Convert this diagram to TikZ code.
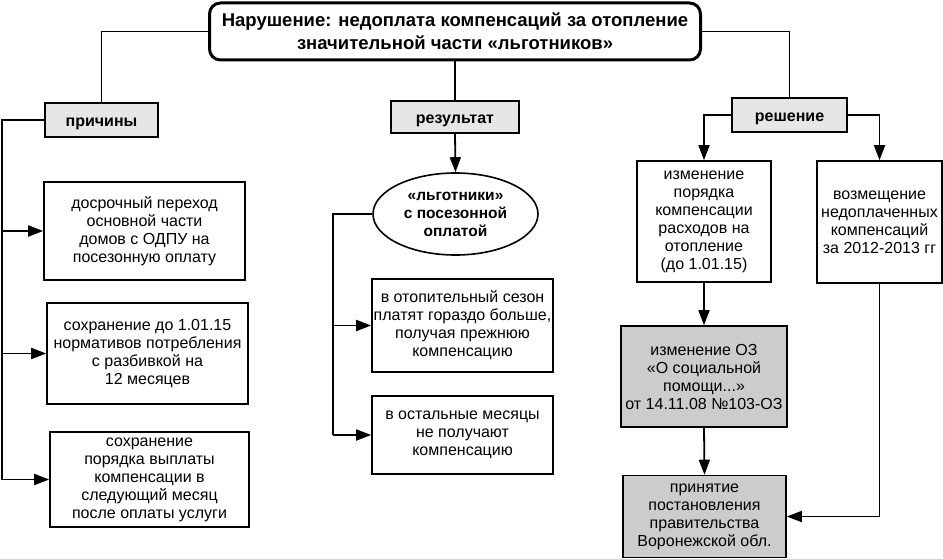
\documentclass[tikz,border=0pt]{standalone}
\usepackage{fontspec}
\setmainfont{Liberation Sans}
\usetikzlibrary{arrows.meta,shapes.geometric}
\definecolor{lblgray}{HTML}{E6E6E6}
\definecolor{boxgray}{HTML}{CCCCCC}
\begin{document}
\begin{tikzpicture}[x=1pt,y=-1pt,
  box/.style={draw,line width=1.6pt,inner sep=0pt,align=center,font=\fontsize{16}{18}\selectfont},
  graybox/.style={box,fill=boxgray},
  lbl/.style={draw,line width=1.6pt,fill=lblgray,inner sep=0pt,text height=14pt,text depth=0pt,font=\bfseries\fontsize{16}{18}\selectfont},
  conn/.style={line width=1.8pt},
  trunk/.style={line width=2.8pt},
  arr/.style={conn,-{Triangle[length=15pt,width=11pt]}}]
\useasboundingbox (0,0) rectangle (943,559);
\node[draw,line width=3pt,rounded corners=11pt,minimum width=491pt,minimum height=57pt,inner sep=0pt,align=center,font=\bfseries\fontsize{18.5}{23}\selectfont] (title) at (455,31.5) {Нарушение: недоплата компенсаций за отопление\\значительной части «льготников»};
\node[lbl,minimum width=113pt,minimum height=34pt] (prich) at (101.5,120) {причины};
\node[lbl,minimum width=128pt,minimum height=32pt] (rez) at (455,117) {результат};
\node[lbl,minimum width=115pt,minimum height=34pt] (resh) at (789.5,115) {решение};
\node[box,minimum width=201pt,minimum height=98pt] (b1) at (144.5,231) {досрочный переход\\основной части\\домов с ОДПУ на\\посезонную оплату};
\node[box,minimum width=201pt,minimum height=101pt] (b2) at (147.5,353.5) {сохранение до 1.01.15\\нормативов потребления\\с разбивкой на\\12 месяцев};
\node[box,minimum width=199pt,minimum height=95pt] (b3) at (149.5,479.5) {сохранение\\порядка выплаты\\компенсации в\\следующий месяц\\после оплаты услуги};
\node[draw,ellipse,line width=1.6pt,inner sep=0pt,minimum width=165pt,minimum height=82pt,align=center,font=\bfseries\fontsize{15.5}{18}\selectfont] (ell) at (455.5,214) {«льготники»\\с посезонной\\оплатой};
\node[box,minimum width=181pt,minimum height=93pt] (ra) at (462.5,325.5) {в отопительный сезон\\платят гораздо больше,\\получая прежнюю\\компенсацию};
\node[box,minimum width=181pt,minimum height=78pt] (rb) at (462.5,435) {в остальные месяцы\\не получают\\компенсацию};
\node[box,minimum width=134pt,minimum height=121pt] (por) at (704,221.5) {изменение\\порядка\\компенсации\\расходов на\\отопление\\(до 1.01.15)};
\node[box,minimum width=125pt,minimum height=122pt] (voz) at (879.5,222) {возмещение\\недоплаченных\\компенсаций\\за 2012-2013 гг};
\node[graybox,minimum width=166pt,minimum height=101pt] (oz) at (704,376.5) {изменение ОЗ\\«О социальной\\помощи...»\\от 14.11.08 №103-ОЗ};
\node[graybox,minimum width=163pt,minimum height=82pt] (prin) at (704.5,516.5) {принятие\\постановления\\правительства\\Воронежской обл.};
% connectors from title
\draw[conn] (title.west) -| (prich.north);
\draw[conn] (title.east) -| (resh.north);
\draw[conn] (title.south) -- (rez.north);
% causes trunk
\coordinate (lt) at (2,120);
\draw[trunk] (prich.west) -- (lt) -- (lt |- b3.west);
\draw[arr] (lt |- b1.west) -- (b1.west);
\draw[arr] (lt |- b2.west) -- (b2.west);
\draw[arr] (lt |- b3.west) -- (b3.west);
% result
\draw[arr] (rez.south) -- (ell.north);
\coordinate (et) at (333,214);
\draw[conn] (ell.west) -- (et) -- (et |- rb.west);
\draw[arr] (et |- ra.west) -- (ra.west);
\draw[arr] (et |- rb.west) -- (rb.west);
% decision
\draw[arr] (resh.west) -| (por.north);
\draw[arr] (resh.east) -| (voz.north);
\draw[arr] (por.south) -- (oz.north);
\draw[arr] (oz.south) -- (prin.north);
\draw[arr] (voz.south) |- (prin.east);
\end{tikzpicture}
\end{document}
